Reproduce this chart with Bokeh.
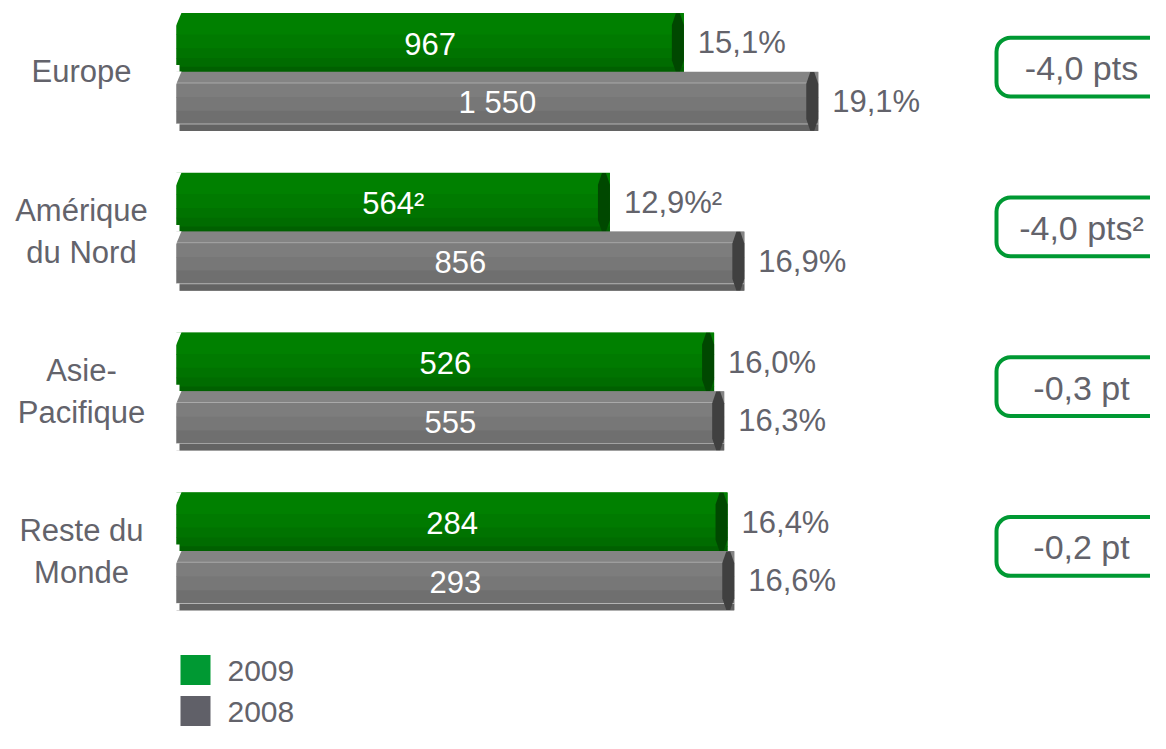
from bokeh.plotting import figure
from bokeh.models import Range1d, BoxAnnotation
from bokeh.core.properties import value
from bokeh.embed import file_html
from bokeh.resources import INLINE

# ---------------- data ----------------
regions = ["Europe", "Amérique\ndu Nord", "Asie-\nPacifique", "Reste du\nMonde"]
pct_2009 = [15.1, 12.9, 16.0, 16.4]
pct_2008 = [19.1, 16.9, 16.3, 16.6]
val_2009 = ["967", "564²", "526", "284"]
val_2008 = ["1 550", "856", "555", "293"]
pct_txt_2009 = ["15,1%", "12,9%²", "16,0%", "16,4%"]
pct_txt_2008 = ["19,1%", "16,9%", "16,3%", "16,6%"]
delta_txt = ["-4,0 pts", "-4,0 pts²", "-0,3 pt", "-0,2 pt"]
years = ["2009", "2008"]

# ---------------- layout helpers ----------------
W, H = 1150, 733
PX_PER = 33.6          # pixels per percentage point
X0 = 176               # pixel of 0 %
FONT = value("Liberation Sans")
TXT = "#63636b"

def px(sx):
    return (sx - X0) / PX_PER

p = figure(width=W, height=H, output_backend="svg", toolbar_location=None,
           x_range=Range1d(px(0), px(W)), y_range=Range1d(749, 0),
           x_axis_location=None, y_axis_location=None, min_border=0,
           outline_line_color=None, background_fill_color="white")
p.grid.visible = False

centers = [73 + 163.3 * i for i in range(len(regions))]
BAR_H = 60

green_stripes = [(0, 22, "#008000"), (22, 36, "#007a00"), (36, 46, "#007300"),
                 (46, 55, "#006c00"), (55, 60, "#006000")]
gray_stripes = [(0, 11, "#848484"), (11, 12, "#a9a9a9"), (12, 26, "#7d7d7d"),
                (26, 40, "#777777"), (40, 53, "#6f6f6f"), (53, 54, "#b3b3b3"),
                (54, 60, "#636363")]

def draw_series(pcts, tops, stripes, cap_color):
    n = len(pcts)
    # base bar
    p.hbar(y=[tp + BAR_H / 2 for tp in tops], left=[0] * n, right=pcts,
           height=BAR_H, fill_color=stripes[2][2], line_color=None)
    for t, b, col in stripes:
        p.hbar(y=[tp + (t + b) / 2 for tp in tops], left=[0] * n, right=pcts,
               height=(b - t) + 0.6, fill_color=col, line_color=None)
    # chamfered top-left and bottom-left corners
    cx, cy = [], []
    for tp in tops:
        cx.append([px(175), px(181), px(175)]); cy.append([tp - 0.5, tp - 0.5, tp + 14])
        cx.append([px(175), px(179), px(179), px(175)]); cy.append([tp + 53, tp + 53, tp + 60.5, tp + 60.5])
    p.patches(xs=cx, ys=cy, fill_color="white", line_color=None)
    # right end caps
    xs, ys = [], []
    for v, tp in zip(pcts, tops):
        E = X0 + v * PX_PER
        bt = tp + BAR_H
        pts = [(E - 4, tp), (E, tp + 12), (E, bt - 12), (E - 4, bt),
               (E - 8, bt), (E - 12, bt - 12), (E - 12, tp + 12), (E - 8, tp)]
        xs.append([px(a) for a, _ in pts])
        ys.append([b for _, b in pts])
    p.patches(xs=xs, ys=ys, fill_color=cap_color, line_color=None)

tops_2009 = [c - BAR_H for c in centers]
tops_2008 = [c for c in centers]
draw_series(pct_2009, tops_2009, green_stripes, "#004800")
draw_series(pct_2008, tops_2008, gray_stripes, "#404040")

# value labels inside bars
for pcts, tops, labels in [(pct_2009, tops_2009, val_2009), (pct_2008, tops_2008, val_2008)]:
    p.text(x=[v / 2 for v in pcts], y=[t + BAR_H / 2 + 1 for t in tops], text=labels,
           text_color="white", text_font=FONT, text_font_size="31px",
           text_align="center", text_baseline="middle")

# percentage labels
for pcts, tops, labels in [(pct_2009, tops_2009, pct_txt_2009), (pct_2008, tops_2008, pct_txt_2008)]:
    p.text(x=pcts, y=[t + BAR_H / 2 for t in tops], text=labels, x_offset=14,
           text_color=TXT, text_font=FONT, text_font_size="31px",
           text_align="left", text_baseline="middle")

# category labels
p.text(x=[px(81)] * len(regions), y=centers, text=regions, text_color=TXT,
       text_font=FONT, text_font_size="31px", text_align="center",
       text_baseline="middle", text_line_height=1.2)

# delta boxes
box_c = [c - 5 for c in centers]
for bc in box_c:
    p.add_layout(BoxAnnotation(left=px(996), right=px(1190), top=bc - 30, bottom=bc + 30,
                               fill_alpha=0, line_color="#009933", line_alpha=1.0,
                               line_width=4, border_radius=14))
p.text(x=[px(1081)] * len(delta_txt), y=[bc + 1 for bc in box_c], text=delta_txt,
       text_color=TXT, text_font=FONT, text_font_size="34px",
       text_align="center", text_baseline="middle")

# legend
leg_y = [684, 726]
p.rect(x=[px(195)] * 2, y=leg_y, width=30, height=30, width_units="screen",
       height_units="screen", fill_color=["#009933", "#606068"], line_color=None)
p.text(x=[px(227)] * 2, y=[y + 1 for y in leg_y], text=years, text_color=TXT,
       text_font=FONT, text_font_size="30px", text_align="left", text_baseline="middle")

open("out.html", "w").write(file_html(p, INLINE))
